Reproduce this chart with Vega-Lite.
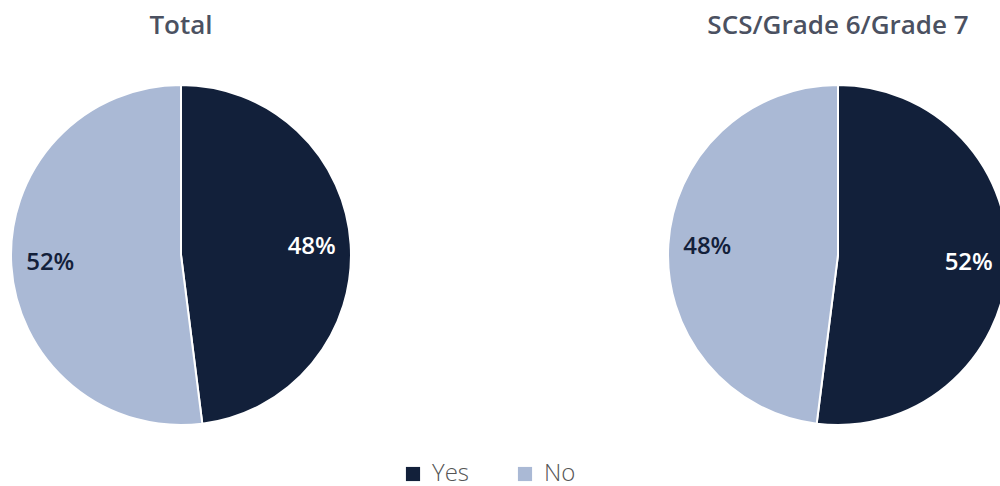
{
  "$schema": "https://vega.github.io/schema/vega-lite/v6.json",
  "autosize": {"type": "pad"},
  "padding": {"left": 0, "top": 13, "right": 0, "bottom": 10},
  "background": "white",
  "data": {"values": [
    {"group": "Total", "answer": "Yes", "value": 0.48},
    {"group": "Total", "answer": "No", "value": 0.52},
    {"group": "SCS/Grade 6/Grade 7", "answer": "Yes", "value": 0.52},
    {"group": "SCS/Grade 6/Grade 7", "answer": "No", "value": 0.48}
  ]},
  "spacing": 295,
  "hconcat": [
    {
      "width": 362, "height": 340,
      "title": {"text": "Total"},
      "transform": [{"filter": "datum.group === 'Total'"}],
      "encoding": {
        "theta": {"field": "value", "type": "quantitative", "stack": true},
        "order": {"field": "answer", "sort": "descending"}
      },
      "layer": [
        {"mark": {"type": "arc", "outerRadius": 170, "stroke": "white", "strokeWidth": 2},
         "encoding": {"color": {"field": "answer", "type": "nominal",
           "scale": {"domain": ["Yes", "No"], "range": ["#12203a", "#aab9d5"]},
           "legend": {"title": null, "orient": "none", "legendX": 401, "legendY": 377, "direction": "horizontal"}}}},
        {"mark": {"type": "text", "radius": 131, "font": "Open Sans", "fontSize": 24, "fontWeight": 600},
         "encoding": {"detail": {"field": "answer"},
           "text": {"field": "value", "type": "quantitative", "format": ".0%"},
           "color": {"condition": {"test": "datum.answer === 'Yes'", "value": "white"}, "value": "#13203a"}}}
      ]
    },
    {
      "width": 362, "height": 340,
      "title": {"text": "SCS/Grade 6/Grade 7"},
      "transform": [{"filter": "datum.group !== 'Total'"}],
      "encoding": {
        "theta": {"field": "value", "type": "quantitative", "stack": true},
        "order": {"field": "answer", "sort": "descending"}
      },
      "layer": [
        {"mark": {"type": "arc", "outerRadius": 170, "stroke": "white", "strokeWidth": 2},
         "encoding": {"color": {"field": "answer", "type": "nominal",
           "scale": {"domain": ["Yes", "No"], "range": ["#12203a", "#aab9d5"]},
           "legend": {"title": null, "orient": "none", "legendX": 401, "legendY": 377, "direction": "horizontal"}}}},
        {"mark": {"type": "text", "radius": 131, "font": "Open Sans", "fontSize": 24, "fontWeight": 600},
         "encoding": {"detail": {"field": "answer"},
           "text": {"field": "value", "type": "quantitative", "format": ".0%"},
           "color": {"condition": {"test": "datum.answer === 'Yes'", "value": "white"}, "value": "#13203a"}}}
      ]
    }
  ],
  "config": {
    "view": {"stroke": null},
    "title": {"font": "Open Sans", "fontSize": 26, "fontWeight": 600, "color": "#4b5161", "offset": 42, "anchor": "middle"},
    "legend": {"labelFont": "Open Sans", "labelFontSize": 24, "labelColor": "#555555", "labelFontWeight": 300,
      "symbolType": "square", "symbolSize": 200, "symbolStrokeWidth": 0, "symbolOpacity": 1, "columnPadding": 43, "labelOffset": 7}
  }
}
